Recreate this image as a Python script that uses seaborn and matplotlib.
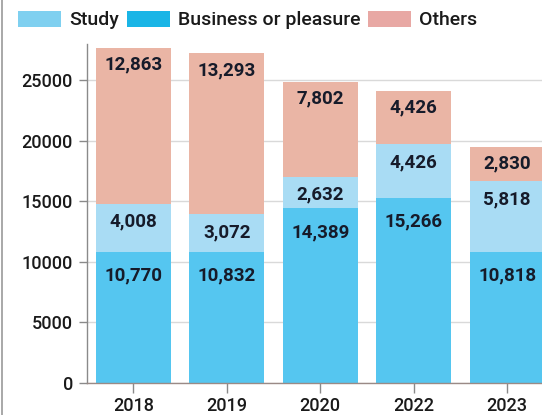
import matplotlib
matplotlib.use("Agg")
import matplotlib.pyplot as plt
from matplotlib.patches import Patch
from matplotlib.lines import Line2D
import seaborn as sns
import numpy as np

years = ["2018", "2019", "2020", "2022", "2023"]
business = [10770, 10832, 14389, 15266, 10818]
study = [4008, 3072, 2632, 4426, 5818]
others = [12863, 13293, 7802, 4426, 2830]

series_names = ["Study", "Business or pleasure", "Others"]
bar_colors = {"Business or pleasure": "#55c6f0", "Study": "#a9dcf4", "Others": "#eab5a5"}
legend_colors = {"Study": "#7fd0f0", "Business or pleasure": "#1ab5e6", "Others": "#e8a8a4"}

sns.set_theme(style="white")
plt.rcParams["font.family"] = ["Roboto", "DejaVu Sans"]

fig = plt.figure(figsize=(5.42, 4.15), dpi=100)
ax = fig.add_axes([0.16, 0.0778, 0.84, 0.8169])

business_arr = np.array(business)
study_top = business_arr + np.array(study)
total_top = study_top + np.array(others)

# Stacked bars drawn as overlapping cumulative layers, tallest first
for tops, name in [(total_top, "Others"), (study_top, "Study"), (business_arr, "Business or pleasure")]:
    sns.barplot(x=years, y=tops, color=bar_colors[name], saturation=1, width=0.8,
                ax=ax, zorder=2, linewidth=0, order=years)

# Value labels just below the top of each segment
label_color = "#161b2a"
offsets = {"Business or pleasure": -17, "Study": -13, "Others": -12}
for i in range(len(years)):
    for name, vals, tops in [("Business or pleasure", business, business_arr),
                             ("Study", study, study_top),
                             ("Others", others, total_top)]:
        ax.annotate(f"{vals[i]:,}", xy=(i, tops[i]), xytext=(0, offsets[name]),
                    textcoords="offset points", ha="center", va="center",
                    fontsize=13.5, fontweight="semibold", color=label_color, zorder=5)

ax.set_xlim(-0.5, 4.374)
ax.set_ylim(0, 28000)
ax.set_yticks([0, 5000, 10000, 15000, 20000, 25000])
ax.set_yticklabels(["0", "5000", "10000", "15000", "20000", "25000"])
ax.set_xlabel("")
ax.set_ylabel("")

ax.yaxis.grid(True, color="#d9d9d9", linewidth=1, zorder=0)
ax.set_axisbelow(True)

for side in ["top", "right"]:
    ax.spines[side].set_visible(False)
ax.spines["left"].set_color("#8a8a8a")
ax.spines["bottom"].set_color("#9a8a86")
ax.spines["left"].set_linewidth(1)
ax.spines["bottom"].set_linewidth(1)

ax.tick_params(axis="y", left=True, length=6, width=1, color="#8a8a8a", pad=4,
               labelsize=13, labelcolor="#1a1a1a")
ax.tick_params(axis="x", bottom=True, length=7, width=1, color="#8a8a8a", pad=3,
               labelsize=13, labelcolor="#1a1a1a")
for lbl in ax.get_xticklabels() + ax.get_yticklabels():
    lbl.set_fontweight("medium")

handles = [Patch(facecolor=legend_colors[n], edgecolor="none", label=n) for n in series_names]
leg = fig.legend(handles=handles, loc="center left", bbox_to_anchor=(0.033, 0.952), ncol=3,
                 frameon=False, prop={"size": 14, "weight": "medium"}, handlelength=2.2,
                 handleheight=0.9, handletextpad=0.42, columnspacing=0.42,
                 borderpad=0, borderaxespad=0)
for t in leg.get_texts():
    t.set_color("#1a1a1a")

# thin frame line at the left edge of the figure
fig.add_artist(Line2D([0.003, 0.003], [0, 1], transform=fig.transFigure,
                      color="#9a9a9a", linewidth=1.2))

fig.savefig("out.png", dpi=100)
